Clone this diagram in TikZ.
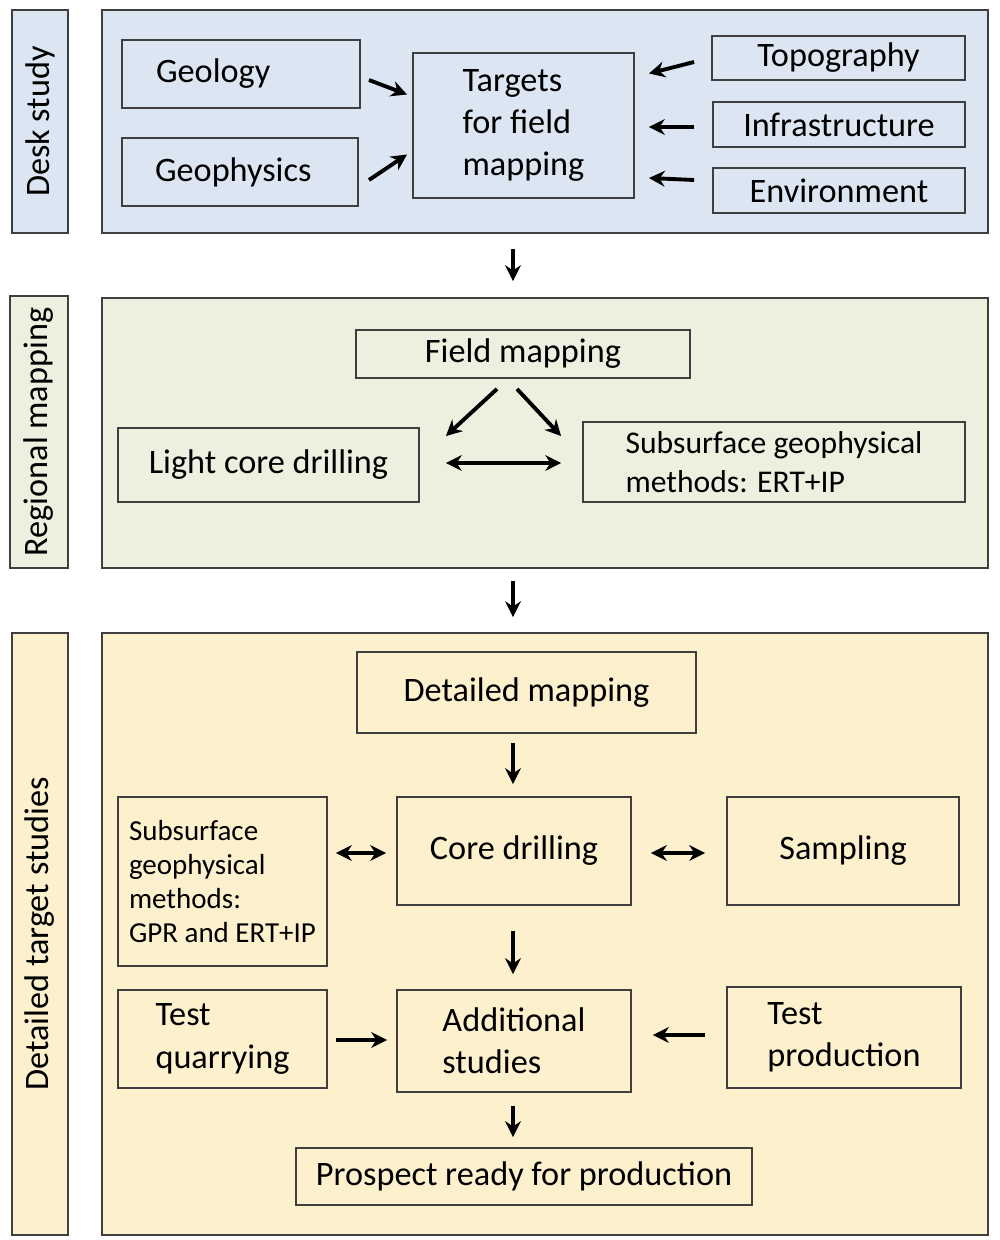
\documentclass[tikz,border=0pt]{standalone}
\usepackage{fontspec}
\setmainfont{Carlito}
\usepackage{tikz}
\usetikzlibrary{calc,shapes,arrows,arrows.meta}
\definecolor{deskblue}{HTML}{DCE6F2}
\definecolor{regiongreen}{HTML}{EBF1DE}
\definecolor{targetsand}{HTML}{FDF1CD}
\definecolor{boxline}{HTML}{3F3F3F}
\newcommand{\diagfont}{\fontsize{19.5}{24}\selectfont}
\tikzset{
   stage/.style={draw=boxline, line width=1.1pt, inner sep=0pt},
   stagelabel/.style={stage, rotate=90, font=\diagfont},
   blk/.style={draw=boxline, line width=1.1pt, inner sep=0pt, align=center, font=\diagfont},
   flow/.style={-{Stealth[length=9pt,width=9pt]}, line width=2.2pt, black},
   twoway/.style={{Stealth[length=9pt,width=9pt]}-{Stealth[length=9pt,width=9pt]}, line width=2.2pt, black}
}

\begin{document}
\begin{tikzpicture}[x=0.02cm,y=-0.02cm]
\useasboundingbox (0,0) rectangle (1000,1240);

% stages
\node[stagelabel, fill=deskblue, minimum width=4.46cm, minimum height=1.12cm] (deskl) at (40,121.5) {Desk study};
\node[stage, fill=deskblue, minimum width=17.72cm, minimum height=4.46cm] (desk) at (545,121.5) {};
\node[stagelabel, fill=regiongreen, minimum width=5.44cm, minimum height=1.16cm] (regionall) at (39,432) {Regional mapping};
\node[stage, fill=regiongreen, minimum width=17.72cm, minimum height=5.40cm] (regional) at (545,433) {};
\node[stagelabel, fill=targetsand, minimum width=12.04cm, minimum height=1.12cm] (detailedl) at (40,934) {Detailed target studies};
\node[stage, fill=targetsand, minimum width=17.72cm, minimum height=12.04cm] (detailed) at (545,934) {};

% desk study
\begin{scope}[every node/.append style={fill=deskblue}]
\node[blk, minimum width=4.76cm, minimum height=1.36cm, text width=3.4cm, align=left] (geo) at (241,74) {Geology};
\node[blk, minimum width=4.72cm, minimum height=1.36cm, text width=3.4cm, align=left] (gph) at (240,172) {Geophysics};
\node[blk, minimum width=4.42cm, minimum height=2.90cm, align=left] (tgt) at (523.5,125.5) {Targets\\for field\\mapping};
\node[blk, minimum width=5.06cm, minimum height=0.88cm] (topo) at (838.5,58) {Topography};
\node[blk, minimum width=5.04cm, minimum height=0.90cm] (infra) at (839,124.5) {Infrastructure};
\node[blk, minimum width=5.04cm, minimum height=0.90cm] (env) at (839,190.5) {Environment};
\end{scope}

\draw[flow] ([shift={(8,6)}]geo.east) -- ([shift={(-5,-31)}]tgt.west);
\draw[flow] ([shift={(10,8)}]gph.east) -- ([shift={(-5,29)}]tgt.west);
\draw[flow] ([shift={(-17,4)}]topo.west) -- ([shift={(14,-52)}]tgt.east);
\draw[flow] ([shift={(-18,2.5)}]infra.west) -- ([shift={(14,1.5)}]tgt.east);
\draw[flow] ([shift={(-18,-10.5)}]env.west) -- ([shift={(14,52.5)}]tgt.east);

\draw[flow] ([shift={(-32,15)}]desk.south) -- ([shift={(-32,-16)}]regional.north);

% regional mapping
\begin{scope}[every node/.append style={fill=regiongreen}]
\node[blk, minimum width=6.68cm, minimum height=0.96cm] (fm) at (523,354) {Field mapping};
\node[blk, minimum width=6.02cm, minimum height=1.48cm] (lcd) at (268.5,465) {Light core drilling};
\node[blk, minimum width=7.64cm, minimum height=1.60cm, align=left, font=\fontsize{18}{22.5}\selectfont] (ssg) at (774,462) {Subsurface geophysical\\methods: ERT+IP};
\end{scope}

\draw[flow] ([shift={(-26,10)}]fm.south) -- ([shift={(26,9)}]lcd.north east);
\draw[flow] ([shift={(-6,10)}]fm.south) -- ([shift={(-21,15)}]ssg.north west);
\draw[twoway] ([shift={(26,-2)}]lcd.east) -- ([shift={(-21,1)}]ssg.west);

\draw[flow] ([shift={(-32,12)}]regional.south) -- ([shift={(-32,-15)}]detailed.north);

% detailed target studies
\begin{scope}[every node/.append style={fill=targetsand}]
\node[blk, minimum width=6.78cm, minimum height=1.62cm] (dm) at (526.5,692.5) {Detailed mapping};
\node[blk, minimum width=4.68cm, minimum height=2.16cm] (cd) at (514,851) {Core drilling};
\node[blk, minimum width=4.18cm, minimum height=3.38cm, align=left, font=\fontsize{16.5}{19.5}\selectfont] (sgp) at (222.5,881.5) {Subsurface\\geophysical\\methods:\\GPR and ERT+IP};
\node[blk, minimum width=4.64cm, minimum height=2.16cm] (smp) at (843,851) {Sampling};
\node[blk, minimum width=4.18cm, minimum height=1.96cm, align=left] (tq) at (222.5,1039) {Test\\quarrying};
\node[blk, minimum width=4.68cm, minimum height=2.04cm, align=left] (add) at (514,1041) {Additional\\studies};
\node[blk, minimum width=4.68cm, minimum height=2.02cm, align=left] (tp) at (844,1037.5) {Test\\production};
\node[blk, minimum width=9.12cm, minimum height=1.14cm] (pr) at (524,1176.5) {Prospect ready for production};
\end{scope}

\draw[flow] ([shift={(-13.5,9)}]dm.south) -- ([shift={(-1,-12)}]cd.north);
\draw[flow] ([shift={(-1,25)}]cd.south) -- ([shift={(-1,-15)}]add.north);
\draw[flow] ([shift={(-1,13)}]add.south) -- ([shift={(-11,-10)}]pr.north);
\draw[twoway] ([shift={(8,-28.5)}]sgp.east) -- ([shift={(-10,2)}]cd.west);
\draw[twoway] ([shift={(19,2)}]cd.east) -- ([shift={(-21,2)}]smp.west);
\draw[flow] ([shift={(8,1)}]tq.east) -- ([shift={(-9,-1)}]add.west);
\draw[flow] ([shift={(-21,-2.5)}]tp.west) -- ([shift={(21,-6)}]add.east);
\end{tikzpicture}
\end{document}
